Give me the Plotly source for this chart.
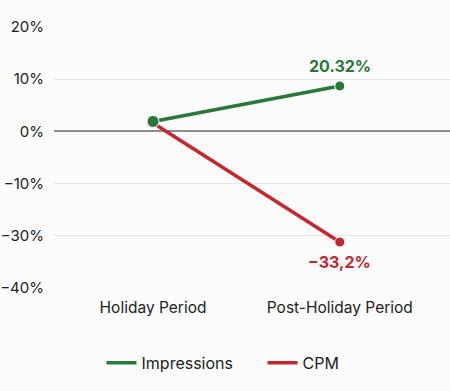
import plotly.graph_objects as go

categories = ["Holiday Period", "Post-Holiday Period"]
impressions = [1.9, 8.7]
cpm = [1.6, -21.2]
impr_label = "20.32%"
cpm_label = "\u221233,2%"
tick_vals = [20, 10, 0, -10, -20, -30]
tick_text = ["20%", "10%", "0%", "\u221210%", "\u221230%", "\u221240%"]

green = "#2a773a"
red = "#c5262f"

fig = go.Figure()
fig.add_trace(go.Scatter(x=categories, y=cpm, name="CPM", mode="lines+markers", showlegend=False,
                         line=dict(color=red, width=3.5),
                         marker=dict(size=[10, 10], color=red, opacity=1)))
fig.add_trace(go.Scatter(x=categories, y=impressions, name="Impressions", mode="lines+markers",
                         showlegend=False,
                         line=dict(color=green, width=3.5),
                         marker=dict(size=[12, 10], color=green, opacity=1)))
# legend-only entries (line symbols without markers)
fig.add_trace(go.Scatter(x=[None], y=[None], name="Impressions", mode="lines",
                         line=dict(color=green, width=3.5)))
fig.add_trace(go.Scatter(x=[None], y=[None], name="CPM", mode="lines",
                         line=dict(color=red, width=3.5)))

fig.add_annotation(x=categories[1], y=impressions[1], text="<b>" + impr_label + "</b>",
                   showarrow=False, yshift=20, font=dict(size=16, color=green))
fig.add_annotation(x=categories[1], y=cpm[1], text="<b>" + cpm_label + "</b>",
                   showarrow=False, yshift=-20, font=dict(size=16, color=red))

fig.update_layout(
    width=450, height=391,
    margin=dict(l=54, r=0, t=27, b=103),
    paper_bgcolor="#fcfcfc", plot_bgcolor="#fcfcfc",
    font=dict(family="Inter, Roboto, sans-serif", size=14, color="#222222"),
    showlegend=True,
    legend=dict(orientation="h", x=0.12, xanchor="left", y=-0.287, yanchor="middle",
                font=dict(size=16, color="#222222"), bgcolor="rgba(0,0,0,0)",
                entrywidth=116),
    xaxis=dict(type="category", range=[-0.53, 1.59], showgrid=False, zeroline=False,
               showline=False, ticks="", ticklabelstandoff=8,
               tickfont=dict(size=15.5, color="#222222")),
    yaxis=dict(range=[-30, 20], tickvals=tick_vals, ticktext=tick_text,
               showgrid=True, gridcolor="#e4e4e4", gridwidth=1,
               zeroline=True, zerolinecolor="#8c8c8c", zerolinewidth=1.5,
               showline=False, ticks="", ticklabelstandoff=9,
               tickfont=dict(size=15, color="#222222")),
)

fig.write_html("out.html", config={"displayModeBar": False},
               post_script="document.body.style.margin='0';document.body.style.background='#fcfcfc';")
